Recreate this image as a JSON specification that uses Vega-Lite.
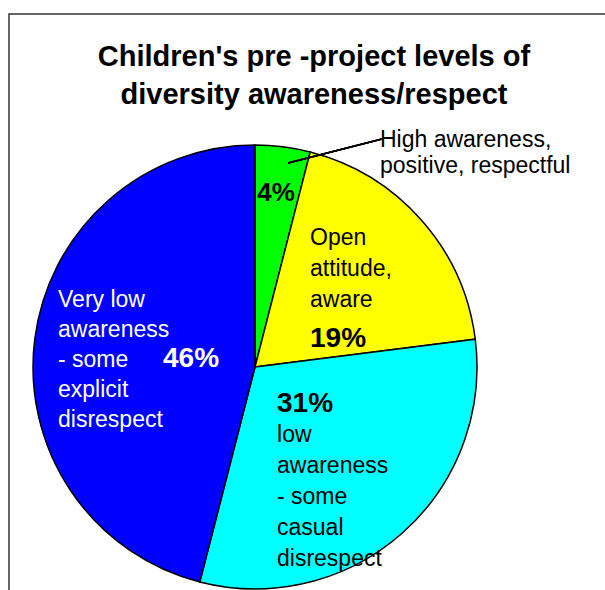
{
  "$schema": "https://vega.github.io/schema/vega-lite/v6.json",
  "width": 600,
  "height": 580,
  "autosize": {"type": "none"},
  "padding": {"left": 9, "top": 14, "right": 0, "bottom": 0},
  "background": "white",
  "config": {
    "view": {"stroke": "#333333", "strokeWidth": 1.5},
    "font": "Liberation Sans"
  },
  "title": {
    "text": ["Children's pre -project levels of", "diversity awareness/respect"],
    "font": "Liberation Sans",
    "fontSize": 29,
    "fontWeight": "bold",
    "color": "black",
    "lineHeight": 38,
    "anchor": "middle",
    "dx": 5,
    "offset": -96
  },
  "data": {
    "values": [
      {"category": "High awareness, positive, respectful", "value": 4, "pct": "4%", "desc": "High awareness,\npositive, respectful", "order": 1},
      {"category": "Open attitude, aware", "value": 19, "pct": "19%", "desc": "Open\nattitude,\naware", "order": 2},
      {"category": "low awareness - some casual disrespect", "value": 31, "pct": "31%", "desc": "low\nawareness\n- some\ncasual\ndisrespect", "order": 3},
      {"category": "Very low awareness - some explicit disrespect", "value": 46, "pct": "46%", "desc": "Very low\nawareness\n- some\nexplicit\ndisrespect", "order": 4}
    ]
  },
  "layer": [
    {
      "mark": {"type": "arc", "outerRadius": 222, "stroke": "black", "strokeWidth": 1.5},
      "encoding": {
        "x": {"datum": 0.41, "type": "quantitative", "scale": {"domain": [0, 1], "nice": false, "zero": false}, "axis": null},
        "y": {"datum": 0.6086, "type": "quantitative", "scale": {"domain": [0, 1], "nice": false, "zero": false, "reverse": true}, "axis": null},
        "theta": {"field": "value", "type": "quantitative", "stack": true},
        "order": {"field": "order", "type": "quantitative"},
        "color": {
          "field": "category", "type": "nominal", "legend": null,
          "scale": {
            "domain": ["High awareness, positive, respectful", "Open attitude, aware", "low awareness - some casual disrespect", "Very low awareness - some explicit disrespect"],
            "range": ["#00FF00", "#FFFF00", "#00FFFF", "#0000FF"]
          }
        }
      }
    },
    {
      "mark": {"type": "rule", "color": "black", "strokeWidth": 1.5},
      "encoding": {
        "x": {"datum": 0.465, "type": "quantitative"},
        "y": {"datum": 0.2569, "type": "quantitative"},
        "x2": {"datum": 0.6217},
        "y2": {"datum": 0.2155}
      }
    },
    {
      "transform": [{"filter": "datum.order == 1"}],
      "mark": {"type": "text", "align": "left", "baseline": "alphabetic", "fontSize": 23, "lineHeight": 26, "lineBreak": "\n", "color": "black"},
      "encoding": {
        "x": {"datum": 0.6183, "type": "quantitative"},
        "y": {"datum": 0.2293, "type": "quantitative"},
        "text": {"field": "desc"}
      }
    },
    {
      "transform": [{"filter": "datum.order == 1"}],
      "mark": {"type": "text", "align": "center", "baseline": "alphabetic", "fontSize": 26, "fontWeight": "bold", "color": "black"},
      "encoding": {
        "x": {"datum": 0.445, "type": "quantitative"},
        "y": {"datum": 0.3224, "type": "quantitative"},
        "text": {"field": "pct"}
      }
    },
    {
      "transform": [{"filter": "datum.order == 2"}],
      "mark": {"type": "text", "align": "left", "baseline": "alphabetic", "fontSize": 23, "lineHeight": 31, "lineBreak": "\n", "color": "black"},
      "encoding": {
        "x": {"datum": 0.5017, "type": "quantitative"},
        "y": {"datum": 0.3983, "type": "quantitative"},
        "text": {"field": "desc"}
      }
    },
    {
      "transform": [{"filter": "datum.order == 2"}],
      "mark": {"type": "text", "align": "left", "baseline": "alphabetic", "fontSize": 28, "fontWeight": "bold", "color": "black"},
      "encoding": {
        "x": {"datum": 0.5017, "type": "quantitative"},
        "y": {"datum": 0.5741, "type": "quantitative"},
        "text": {"field": "pct"}
      }
    },
    {
      "transform": [{"filter": "datum.order == 3"}],
      "mark": {"type": "text", "align": "left", "baseline": "alphabetic", "fontSize": 28, "fontWeight": "bold", "color": "black"},
      "encoding": {
        "x": {"datum": 0.4467, "type": "quantitative"},
        "y": {"datum": 0.6862, "type": "quantitative"},
        "text": {"field": "pct"}
      }
    },
    {
      "transform": [{"filter": "datum.order == 3"}],
      "mark": {"type": "text", "align": "left", "baseline": "alphabetic", "fontSize": 23, "lineHeight": 31, "lineBreak": "\n", "color": "black"},
      "encoding": {
        "x": {"datum": 0.4467, "type": "quantitative"},
        "y": {"datum": 0.7379, "type": "quantitative"},
        "text": {"field": "desc"}
      }
    },
    {
      "transform": [{"filter": "datum.order == 4"}],
      "mark": {"type": "text", "align": "left", "baseline": "alphabetic", "fontSize": 23, "lineHeight": 30, "lineBreak": "\n", "color": "white"},
      "encoding": {
        "x": {"datum": 0.0817, "type": "quantitative"},
        "y": {"datum": 0.5052, "type": "quantitative"},
        "text": {"field": "desc"}
      }
    },
    {
      "transform": [{"filter": "datum.order == 4"}],
      "mark": {"type": "text", "align": "left", "baseline": "alphabetic", "fontSize": 28, "fontWeight": "bold", "color": "white"},
      "encoding": {
        "x": {"datum": 0.2567, "type": "quantitative"},
        "y": {"datum": 0.6086, "type": "quantitative"},
        "text": {"field": "pct"}
      }
    }
  ]
}
